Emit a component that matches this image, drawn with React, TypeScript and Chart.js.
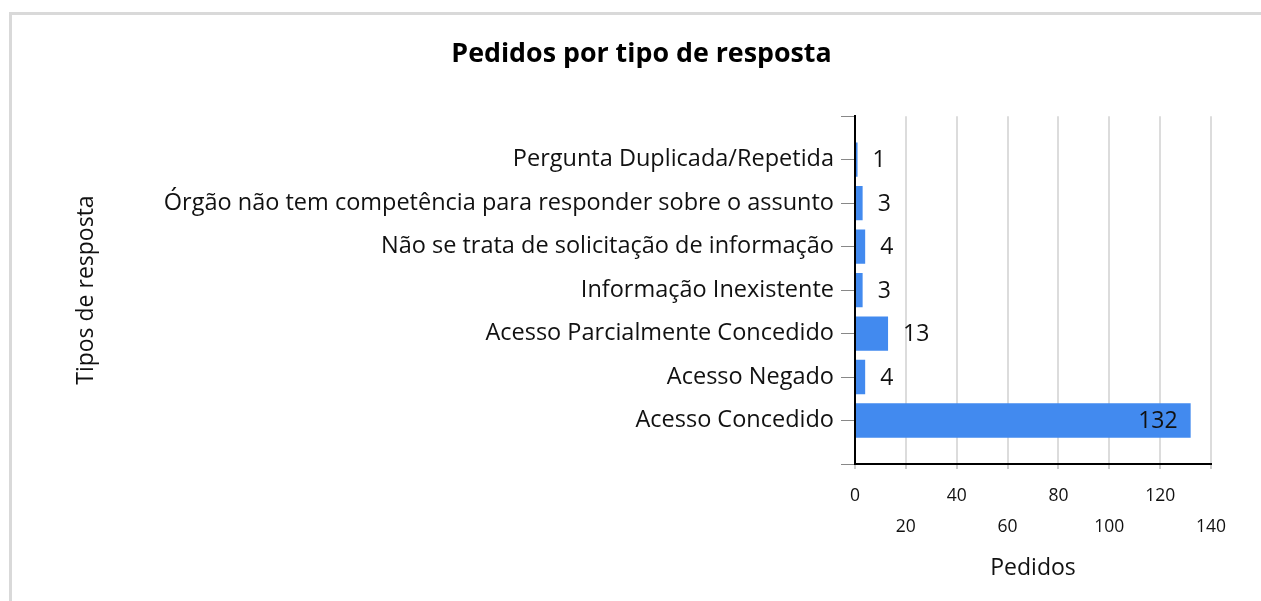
import React, { useEffect, useRef } from "react";
import { Chart, registerables } from "chart.js";

Chart.register(...registerables);

const chartTitle = "Pedidos por tipo de resposta";
const xAxisTitle = "Pedidos";
const yAxisTitle = "Tipos de resposta";

const categories = [
  "Pergunta Duplicada/Repetida",
  "Órgão não tem competência para responder sobre o assunto",
  "Não se trata de solicitação de informação",
  "Informação Inexistente",
  "Acesso Parcialmente Concedido",
  "Acesso Negado",
  "Acesso Concedido",
];
const pedidos = [1, 3, 4, 3, 13, 4, 132];
const xTicks = [0, 20, 40, 60, 80, 100, 120, 140];

const FONT = "'Open Sans', sans-serif";

const borderPlugin = {
  id: "frameBorder",
  beforeDraw(chart: any) {
    const ctx = chart.ctx;
    ctx.save();
    ctx.strokeStyle = "#d9d9d9";
    ctx.lineWidth = 3;
    ctx.beginPath();
    ctx.moveTo(10.5, chart.height);
    ctx.lineTo(10.5, 13.5);
    ctx.lineTo(chart.width, 13.5);
    ctx.stroke();
    ctx.restore();
  },
};

const valueLabelPlugin = {
  id: "valueLabels",
  afterDatasetsDraw(chart: any) {
    const ctx = chart.ctx;
    const meta = chart.getDatasetMeta(0);
    const data = chart.data.datasets[0].data;
    ctx.save();
    ctx.font = `23px ${FONT}`;
    ctx.fillStyle = "#111";
    ctx.textBaseline = "middle";
    meta.data.forEach((bar: any, i: number) => {
      const v = data[i];
      if (v === null || v === undefined) return;
      const len = bar.x - bar.base;
      if (len > 100) {
        ctx.textAlign = "right";
        ctx.fillText(String(v), bar.x - 13, bar.y + 1);
      } else {
        ctx.textAlign = "left";
        ctx.fillText(String(v), bar.x + 15, bar.y + 1);
      }
    });
    ctx.restore();
  },
};

export default function App() {
  const ref = useRef<HTMLCanvasElement | null>(null);

  useEffect(() => {
    if (!ref.current) return;
    const labels = ["", ...categories, ""];
    const values = [null, ...pedidos, null];
    const chart = new Chart(ref.current, {
      type: "bar",
      data: {
        labels,
        datasets: [
          {
            data: values as any,
            backgroundColor: "#428AEF",
            borderWidth: 0,
            barPercentage: 0.79,
            categoryPercentage: 1,
          },
        ],
      },
      options: {
        indexAxis: "y",
        responsive: false,
        animation: false,
        layout: { padding: { left: 72, right: 50, top: 0, bottom: 0 } },
        plugins: {
          legend: { display: false },
          tooltip: { enabled: false },
          title: {
            display: true,
            text: chartTitle,
            color: "#000",
            font: { family: FONT, size: 26.8, weight: "bold", lineHeight: 1.2 },
            padding: { top: 38, bottom: 46 },
          },
        },
        scales: {
          x: {
            type: "linear",
            min: 0,
            max: 140,
            afterBuildTicks(scale: any) {
              scale.ticks = xTicks.map((v) => ({ value: v }));
            },
            afterFit(scale: any) {
              scale.height = 137;
            },
            ticks: {
              autoSkip: false,
              maxRotation: 0,
              color: "#111",
              padding: 12,
              font: { family: FONT, size: 17.5, lineHeight: "31px" } as any,
              callback: (value: any, index: number) =>
                index % 2 === 0 ? [String(value)] : ["", String(value)],
            },
            grid: {
              color: "#dcdcdc",
              lineWidth: 2,
              drawTicks: true,
              tickLength: 5,
              tickColor: "#999",
              tickWidth: 1,
            },
            border: { display: true, color: "#000", width: 2 },
            title: {
              display: true,
              text: xAxisTitle,
              color: "#111",
              font: { family: FONT, size: 23, lineHeight: 1.2 },
              padding: { top: 0, bottom: 19 },
            },
          },
          y: {
            type: "category",
            offset: false,
            afterFit(scale: any) {
              scale.width = 783;
            },
            ticks: {
              autoSkip: false,
              color: "#111",
              padding: 7,
              font: { family: FONT, size: 23.5 },
            },
            grid: {
              offset: false,
              drawOnChartArea: false,
              drawTicks: true,
              tickLength: 14,
              tickColor: "#888",
              tickWidth: 1,
            },
            border: { display: true, color: "#000", width: 2 },
            title: {
              display: true,
              text: yAxisTitle,
              color: "#111",
              font: { family: FONT, size: 23, lineHeight: 1.2 },
              padding: { top: 1, bottom: 0 },
            },
          },
        },
      },
      plugins: [borderPlugin, valueLabelPlugin],
    });
    return () => chart.destroy();
  }, []);

  return (
    <div style={{ position: "fixed", left: 0, top: 0, width: 1261, height: 601, background: "#fff" }}>
      <canvas ref={ref} width={1261} height={601} style={{ display: "block" }} />
    </div>
  );
}
